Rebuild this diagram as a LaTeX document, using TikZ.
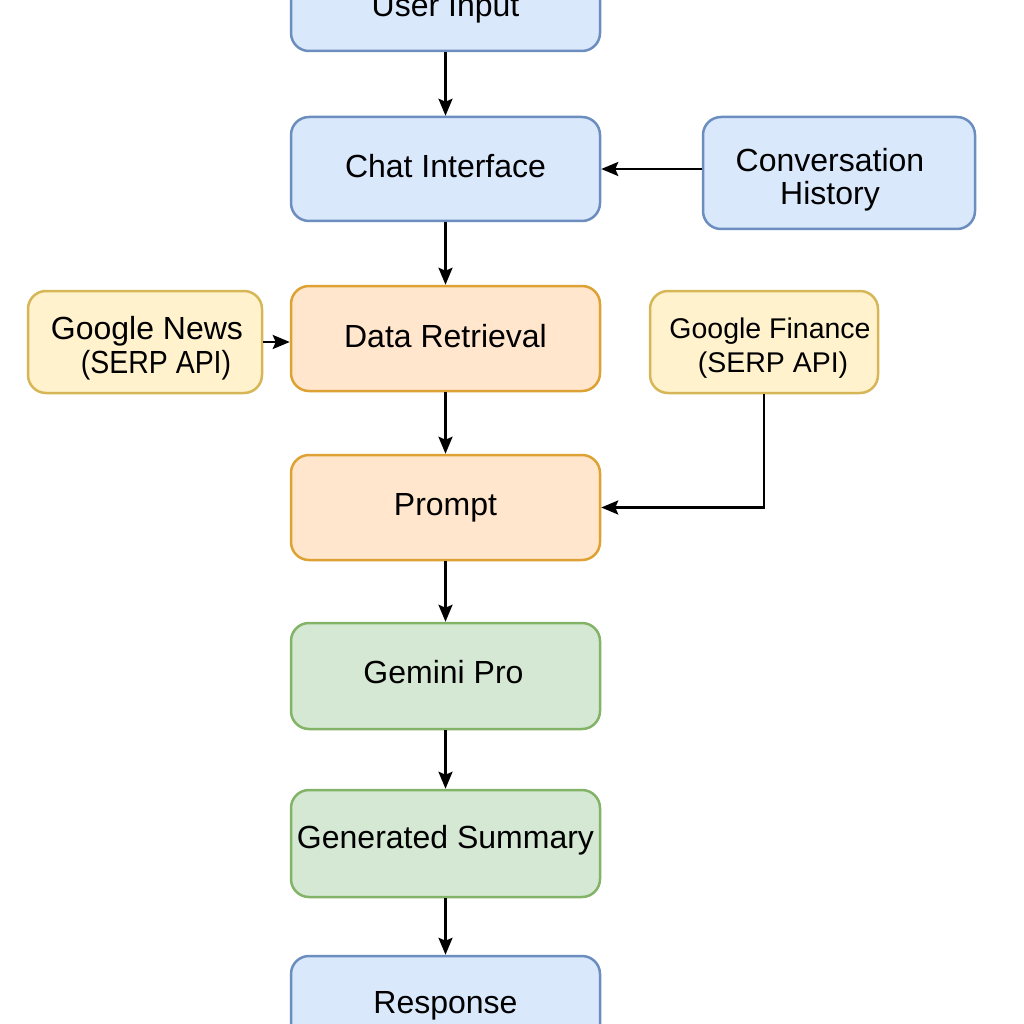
\documentclass[tikz,border=0pt]{standalone}
\usepackage{fontspec}
\usepackage{graphicx}
\setmainfont{Liberation Sans}
\usetikzlibrary{arrows.meta}
\definecolor{bluefill}{HTML}{DAE8FC}
\definecolor{bluedraw}{HTML}{6C8EBF}
\definecolor{orfill}{HTML}{FFE6CC}
\definecolor{ordraw}{HTML}{DDA233}
\definecolor{yefill}{HTML}{FFF2CC}
\definecolor{yedraw}{HTML}{D6B656}
\definecolor{grfill}{HTML}{D5E8D4}
\definecolor{grdraw}{HTML}{82B366}
% two lines: #1 = height of first baseline above node centre
\newcommand{\twolines}[3]{\raisebox{#1}[0pt][0pt]{\begin{tabular}[t]{@{}c@{}}#2\\#3\end{tabular}}}
% one line: #1 = depth of baseline below node centre
\newcommand{\oneline}[2]{\raisebox{-#1}[0pt][0pt]{#2}}
\tikzset{
  box/.style={rectangle, rounded corners=18pt, line width=2.5pt, align=center,
    font=\fontsize{32}{33.5}\selectfont, inner sep=0pt},
  bluebox/.style={box, fill=bluefill, draw=bluedraw},
  orbox/.style={box, fill=orfill, draw=ordraw},
  yebox/.style={box, fill=yefill, draw=yedraw},
  grbox/.style={box, fill=grfill, draw=grdraw},
  conn/.style={line width=2.5pt, -{Stealth[length=17pt,width=14pt,inset=3pt]}}
}
\begin{document}
\begin{tikzpicture}[x=1pt,y=-1pt]
\useasboundingbox (0,0) rectangle (1024,1024);
\clip (0,0) rectangle (1024,1024);
\node[bluebox, minimum width=309pt, minimum height=86pt] (user) at (445.5,8) {\oneline{8.7pt}{User Input}};
\node[bluebox, minimum width=309pt, minimum height=104pt] (chat) at (445.5,169) {\oneline{8.7pt}{Chat Interface}};
\node[bluebox, minimum width=272pt, minimum height=112pt] (conv) at (839,173) {\hspace*{-18pt}\twolines{1.7pt}{Conversation}{History}};
\node[orbox, minimum width=309pt, minimum height=105pt] (dr) at (445.5,338.5) {\oneline{9.2pt}{Data Retrieval}};
\node[yebox, minimum width=234pt, minimum height=102pt] (gnews) at (145,342) {\twolines{2.2pt}{\hspace*{4pt}Google News}{\hspace*{22pt}\scalebox{0.89}[1]{(SERP API)}}};
\node[yebox, minimum width=228pt, minimum height=102pt, font=\fontsize{28.5}{33.5}\selectfont] (gfin) at (764,342) {\twolines{3.5pt}{\hspace*{12pt}Google Finance}{\hspace*{18pt}(SERP API)}};
\node[orbox, minimum width=309pt, minimum height=105pt] (prompt) at (445.5,507.5) {\oneline{7.5pt}{Prompt}};
\node[grbox, minimum width=309pt, minimum height=106pt] (gem) at (445.5,676) {\oneline{7pt}{\hspace*{-4pt}Gemini Pro}};
\node[grbox, minimum width=309pt, minimum height=107pt] (sum) at (445.5,843.5) {\oneline{5.2pt}{Generated Summary}};
\node[bluebox, minimum width=309pt, minimum height=104pt] (resp) at (445.5,1008) {\oneline{5.7pt}{Response}};
\draw[conn] (user) -- (chat);
\draw[conn] (chat) -- (dr);
\draw[conn] (dr) -- (prompt);
\draw[conn] (prompt) -- (gem);
\draw[conn] (gem) -- (sum);
\draw[conn] (sum) -- (resp);
\draw[conn] (conv.west |- chat) -- (chat.east);
\draw[conn] (gnews.east) -- (gnews.east -| dr.west);
\draw[conn] (gfin.south) |- (prompt.east);
\end{tikzpicture}
\end{document}
